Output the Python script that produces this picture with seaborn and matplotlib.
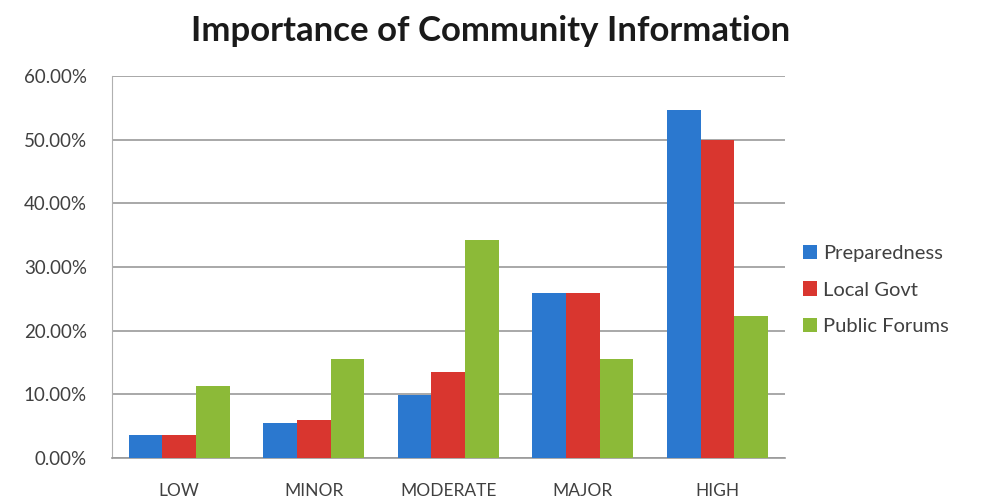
import numpy as np
import pandas as pd
import matplotlib.pyplot as plt
import seaborn as sns
from matplotlib.ticker import PercentFormatter, FixedLocator

categories = ["LOW", "MINOR", "MODERATE", "MAJOR", "HIGH"]
preparedness = [3.7, 5.5, 9.9, 25.9, 54.7]
local_govt = [3.7, 6.0, 13.6, 25.9, 50.0]
public_forums = [11.4, 15.5, 34.3, 15.5, 22.3]
series = ["Preparedness", "Local Govt", "Public Forums"]
colors = ["#2b78cf", "#d9362f", "#8cba38"]

df = pd.DataFrame({
    "level": categories * 3,
    "value": preparedness + local_govt + public_forums,
    "source": [s for s in series for _ in categories],
})

sns.set_style("white")
plt.rcParams["font.family"] = ["Lato", "DejaVu Sans"]

fig = plt.figure(figsize=(9.82, 5.04), dpi=100)
ax = fig.add_axes([0.114, 0.091, 0.685, 0.758])

sns.barplot(data=df, x="level", y="value", hue="source", order=categories,
            hue_order=series, palette=colors, width=0.75, saturation=1,
            edgecolor="none", ax=ax, zorder=3)

ax.set_ylim(0, 60)
ax.set_xlim(-0.5, 4.5)
ax.set_yticks(np.arange(0, 61, 10))
ax.yaxis.set_major_formatter(PercentFormatter(decimals=2))
ax.grid(axis="y", color="#9a9a9a", linewidth=1.2, zorder=0)
ax.set_axisbelow(True)
ax.set_xlabel("")
ax.set_ylabel("")

for side in ["top", "right"]:
    ax.spines[side].set_visible(False)
ax.spines["left"].set_color("#b0b0b0")
ax.spines["bottom"].set_color("#9a9a9a")
ax.spines["bottom"].set_linewidth(1.2)

ax.tick_params(axis="x", which="major", length=0, pad=18, labelsize=12.5, labelcolor="#404040")
ax.xaxis.set_minor_locator(FixedLocator(np.arange(-0.5, 4.6, 1)))
ax.tick_params(axis="x", which="minor", length=5, color="#b0b0b0", direction="out")
ax.tick_params(axis="y", length=0, pad=18, labelsize=13.5, labelcolor="#404040")

fig.suptitle("Importance of Community Information", x=0.5, y=0.97,
             fontsize=25, fontweight="bold", color="#1a1a1a")

handles, labels = ax.get_legend_handles_labels()
ax.legend(handles, labels, loc="center left", bbox_to_anchor=(1.0, 0.44),
          frameon=False, fontsize=14.5, handlelength=0.7, handleheight=0.7,
          handletextpad=0.3, labelspacing=0.95, labelcolor="#404040")

fig.savefig("out.png", dpi=100)
